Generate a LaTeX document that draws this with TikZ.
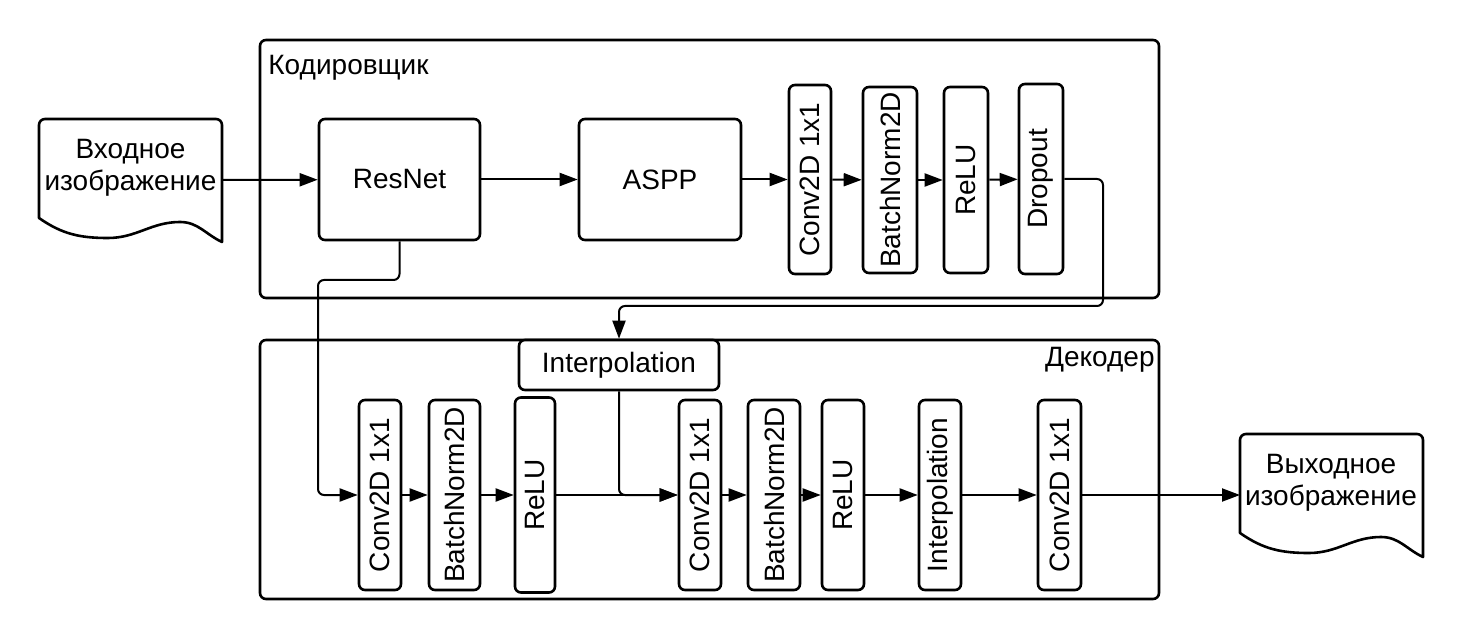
\documentclass[tikz,border=0pt]{standalone}
\usepackage{fontspec}
\setmainfont{Liberation Sans}
\usepackage{graphicx}
\usetikzlibrary{arrows.meta}
\begin{document}
\begin{tikzpicture}[x=0.5pt,y=-0.5pt,
  font=\fontsize{14pt}{16pt}\selectfont,
  box/.style={draw, line width=1.3pt, rounded corners=3pt, inner sep=0pt, align=center},
  arr/.style={line width=1pt, -{Triangle[length=9pt,width=6.5pt]}},
  docline/.style={line width=1.3pt, line join=round},
  lbl/.style={inner sep=0pt}
]
\useasboundingbox (0,0) rectangle (1460,640);

% containers
\node[box, minimum width=449.5pt, minimum height=129pt] (enc) at (709.5,169) {};
\node[box, minimum width=449.5pt, minimum height=129.5pt] (dec) at (709.5,469.5) {};
\node[lbl, anchor=base west] (enclabel) at (268,75) {Кодировщик};
\node[lbl, anchor=base east] (declabel) at (1155,367) {Декодер};

% input document
\draw[docline] (39,218) [rounded corners=3pt] -- (39,119) -- (222,119) [sharp corners] -- (222,242)
  to[out=155,in=0] (180,222) to[out=180,in=0] (108,238) to[out=180,in=-35] (39,218) -- cycle;
\node[lbl, align=center] (inp) at (130.5,168) {Входное\\изображение};
\coordinate (inpR) at (222,180);

% output document
\begin{scope}[shift={(1201,315)}]
\draw[docline] (39,218) [rounded corners=3pt] -- (39,119) -- (222,119) [sharp corners] -- (222,242)
  to[out=155,in=0] (180,222) to[out=180,in=0] (108,238) to[out=180,in=-35] (39,218) -- cycle;
\end{scope}
\node[lbl, align=center] (out) at (1331,483) {Выходное\\изображение};
\coordinate (outL) at (1240,495);

% encoder
\node[box, minimum width=80.5pt, minimum height=60.5pt] (resnet) at (399.5,179.5) {ResNet};
\node[box, minimum width=81pt, minimum height=60.5pt] (aspp) at (660,179.5) {ASPP};
\node[box, minimum width=21pt, minimum height=94.5pt] (econv) at (810,179.5) {\rotatebox{90}{Conv2D 1x1}};
\node[box, minimum width=27pt, minimum height=93pt] (ebn) at (890,180) {\rotatebox{90}{BatchNorm2D}};
\node[box, minimum width=22pt, minimum height=93pt] (erelu) at (966,180) {\rotatebox{90}{ReLU}};
\node[box, minimum width=22pt, minimum height=95pt] (edrop) at (1041,179) {\rotatebox{90}{Dropout}};

% decoder
\node[box, fill=white, minimum width=100pt, minimum height=25pt] (dinterp) at (619,365) {Interpolation};
\node[box, minimum width=21pt, minimum height=95pt] (dconv1) at (380,495) {\rotatebox{90}{Conv2D 1x1}};
\node[box, minimum width=25.5pt, minimum height=95pt] (dbn1) at (454.5,495) {\rotatebox{90}{BatchNorm2D}};
\node[box, minimum width=20pt, minimum height=97.5pt] (drelu1) at (535,495) {\rotatebox{90}{ReLU}};
\node[box, minimum width=21pt, minimum height=95pt] (dconv2) at (700,495) {\rotatebox{90}{Conv2D 1x1}};
\node[box, minimum width=26pt, minimum height=95pt] (dbn2) at (774,495) {\rotatebox{90}{BatchNorm2D}};
\node[box, minimum width=21pt, minimum height=95pt] (drelu2) at (843,495) {\rotatebox{90}{ReLU}};
\node[box, minimum width=21pt, minimum height=95pt] (dinterp2) at (940,495) {\rotatebox{90}{Interpolation}};
\node[box, minimum width=21.5pt, minimum height=95pt] (dconv3) at (1059.5,495) {\rotatebox{90}{Conv2D 1x1}};

% connectors encoder
\draw[arr] (inpR) -- (resnet);
\draw[arr] (resnet) -- (aspp);
\draw[arr] (aspp) -- (econv);
\draw[arr] (econv) -- (ebn);
\draw[arr] (ebn) -- (erelu);
\draw[arr] (erelu) -- (edrop);

% dropout to interpolation
\coordinate (b1) at (1103,179);
\coordinate (b2) at (1103,306);
\draw[arr, rounded corners=3pt] (edrop.east) -- (b1) -- (b2) -| (dinterp.north);

% resnet skip
\coordinate (r1) at (399.5,280);
\coordinate (r2) at (318,280);
\coordinate (r3) at (318,495);
\draw[arr, rounded corners=3pt] (resnet.south) -- (r1) -- (r2) -- (r3) -- (dconv1);

% decoder chain
\draw[arr] (dconv1) -- (dbn1);
\draw[arr] (dbn1) -- (drelu1);
\draw[arr] (drelu1) -- (dconv2);
\draw[arr, rounded corners=3pt] (dinterp.south) |- (dconv2.west);
\draw[arr] (dconv2) -- (dbn2);
\draw[arr] (dbn2) -- (drelu2);
\draw[arr] (drelu2) -- (dinterp2);
\draw[arr] (dinterp2) -- (dconv3);
\draw[arr] (dconv3) -- (outL);
\end{tikzpicture}
\end{document}
